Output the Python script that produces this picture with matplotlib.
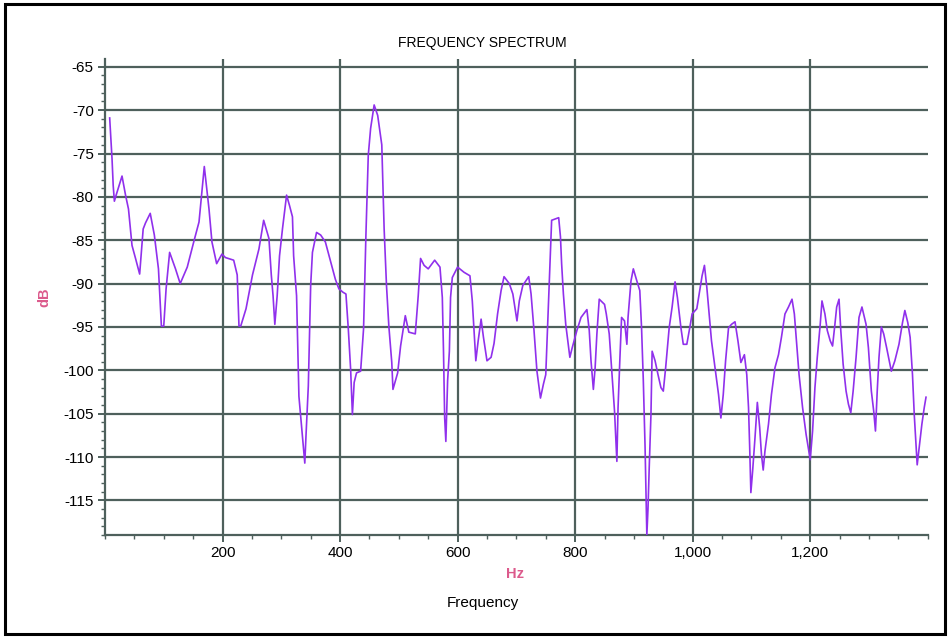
import matplotlib
matplotlib.use("Agg")
import matplotlib.pyplot as plt
from matplotlib.ticker import MultipleLocator, FuncFormatter
from matplotlib.patches import Rectangle

plt.rcParams['font.family'] = ['Liberation Sans', 'DejaVu Sans']

# spectrum samples (Hz, dB)
freq_hz = [
    8, 12, 14, 16, 19, 29, 35, 40, 46, 52, 59, 65, 69, 77, 84, 91, 96, 100,
    104, 110, 120, 128, 140, 151, 160, 165, 169, 173, 177, 182, 190, 199, 205,
    219, 225, 228, 231, 240, 251, 262, 270, 279,
    283, 286, 289, 293, 297, 302, 309, 314, 319, 321, 326, 330, 335, 340, 342,
    346, 350, 353, 360, 367, 375, 384, 392, 398, 405, 410, 414, 418, 421, 424,
    428, 435, 440, 444, 448, 452, 458, 464, 471, 475, 479, 483, 488, 490, 498,
    503, 511, 517, 528, 533, 537, 543, 550,
    561, 570, 574, 576, 578, 580, 583, 586, 588, 591, 600, 611, 621, 625, 628,
    631, 635, 640, 644, 650, 657, 662, 668, 674, 679, 688, 694, 701, 705, 711,
    721, 725, 730, 735, 741, 746, 750, 753, 756, 760, 772, 775, 777, 780, 784,
    791, 795, 803, 810, 820, 824, 827, 831, 834, 837, 841,
    850, 853, 858, 862, 867, 871, 873, 876, 879, 884, 888, 890, 895, 899, 905,
    910, 913, 916, 919, 921, 922, 924, 926, 929, 931, 936, 941, 946, 950, 954,
    960, 965, 970, 974, 980, 984, 990, 995, 999, 1007, 1012, 1016, 1020, 1024,
    1028, 1032, 1038, 1044, 1048, 1052, 1056, 1061, 1066, 1072, 1077, 1082,
    1088, 1092, 1095, 1097, 1099, 1102, 1106, 1110, 1114, 1117, 1120,
    1123, 1129, 1134, 1140, 1146, 1151, 1157, 1163, 1169, 1173, 1177, 1181,
    1187, 1193, 1200, 1204, 1208, 1212, 1217, 1220, 1225, 1229, 1234, 1238,
    1242, 1245, 1249, 1252, 1256, 1261, 1265, 1269, 1273, 1278, 1283, 1288,
    1295, 1299, 1304, 1308, 1311, 1314, 1317, 1321, 1325, 1330, 1338, 1344,
    1351, 1357, 1361, 1366, 1370, 1374, 1377, 1380, 1382, 1386, 1390, 1394,
    1397,
]
level_db = [
    -70.9, -75.6, -78.7, -80.5, -79.8, -77.6, -79.8, -81.4, -85.6, -87.1,
    -88.9, -83.7, -83.0, -81.9, -84.4, -88.3, -94.9, -94.9, -90.6, -86.4,
    -88.3, -90.0, -88.1, -85.2, -82.9, -79.4, -76.5, -79.0, -81.4, -85.2,
    -87.7, -86.6, -87.0, -87.3, -89.0, -94.9, -94.9, -92.9, -89.0, -86.0,
    -82.7, -84.8,
    -89.0, -91.4, -94.7, -91.4, -86.8, -83.7, -79.8, -81.0, -82.3, -86.8,
    -91.4, -103.0, -106.8, -110.7, -107.6, -101.8, -90.2, -86.4, -84.1, -84.4,
    -85.2, -87.5, -89.5, -90.6, -91.0, -91.2, -95.2, -99.9, -105.1, -101.4,
    -100.3, -100.1, -95.2, -84.4, -75.2, -72.1, -69.4, -70.6, -74.0, -83.7,
    -90.2, -94.9, -99.1, -102.2, -100.3, -97.2, -93.7, -95.6, -95.8, -91.4,
    -87.1, -87.9, -88.3,
    -87.3, -88.1, -91.6, -97.8, -105.5, -108.2, -101.2, -97.8, -91.6, -89.3,
    -88.1, -88.7, -89.1, -92.0, -95.4, -98.9, -96.6, -94.1, -96.2, -98.9,
    -98.5, -96.9, -93.5, -90.8, -89.2, -90.0, -91.2, -94.3, -92.0, -90.2,
    -89.2, -91.2, -95.4, -100.1, -103.2, -101.6, -100.5, -95.1, -89.7, -82.7,
    -82.4, -84.6, -87.7, -91.2, -94.7, -98.5, -97.4, -95.4, -93.9, -93.0,
    -95.4, -98.9, -102.2, -99.7, -95.8, -91.8,
    -92.4, -93.5, -95.8, -99.7, -104.7, -110.5, -104.3, -98.9, -93.9, -94.3,
    -97.0, -93.9, -89.7, -88.3, -89.7, -90.8, -95.1, -101.2, -108.9, -115.5,
    -119.0, -115.9, -111.3, -105.1, -97.8, -98.9, -100.5, -102.0, -102.4,
    -99.7, -95.1, -92.7, -89.8, -91.6, -95.1, -97.0, -97.0, -95.1, -93.5,
    -92.9, -90.8, -89.1, -87.9, -90.4, -93.5, -96.6, -99.7, -102.8, -105.5,
    -102.8, -98.9, -95.1, -94.7, -94.4, -96.6, -99.1, -98.2, -100.5, -104.3,
    -108.9, -114.1, -111.6, -107.8, -103.7, -106.6, -109.7, -111.5,
    -109.3, -106.2, -102.8, -99.7, -98.2, -96.2, -93.5, -92.7, -91.8, -93.5,
    -97.0, -100.5, -104.3, -107.4, -110.3, -107.0, -102.0, -98.5, -94.7,
    -92.0, -93.5, -95.4, -96.6, -97.2, -94.7, -92.7, -91.8, -95.4, -99.3,
    -102.4, -103.9, -104.9, -102.4, -98.5, -93.9, -92.7, -94.7, -97.4,
    -102.4, -104.7, -107.0, -102.4, -98.5, -95.0, -95.8, -97.4, -100.1,
    -98.9, -97.0, -94.5, -93.1, -94.5, -96.2, -100.5, -105.1, -108.6,
    -110.9, -108.6, -106.2, -104.3, -103.1,
]

x_ticks = [200, 400, 600, 800, 1000, 1200]
y_ticks = [-65, -70, -75, -80, -85, -90, -95, -100, -105, -110, -115]

grid_col = '#4e605c'
unit_col = '#dc5a8c'

fig = plt.figure(figsize=(9.5, 6.37), dpi=100)
ax = fig.add_axes([0.1105, 0.160, 0.8661, 0.7474])

ax.plot(freq_hz, level_db, color='#9030ec', lw=1.2, zorder=3)

ax.set_xlim(0, 1400)
ax.set_ylim(-119, -64.1)
ax.set_xticks(x_ticks)
ax.set_yticks(y_ticks)
ax.xaxis.set_minor_locator(MultipleLocator(50))
ax.yaxis.set_minor_locator(MultipleLocator(1))
ax.xaxis.set_major_formatter(FuncFormatter(lambda v, p: f'{v:,.0f}'))
ax.yaxis.set_major_formatter(FuncFormatter(lambda v, p: f'{v:.0f}'))

ax.grid(True, which='major', color=grid_col, lw=1.6, zorder=1)
ax.set_axisbelow(True)
for side in ('top', 'right'):
    ax.spines[side].set_visible(False)
for side in ('left', 'bottom'):
    ax.spines[side].set_color(grid_col)
    ax.spines[side].set_linewidth(1.6)

ax.tick_params(which='major', length=5, width=1.4, color=grid_col,
               labelsize=11, pad=3)
ax.tick_params(which='minor', length=3, width=1.0, color=grid_col)

fig.text(0.508, 0.932, 'FREQUENCY SPECTRUM', ha='center', va='center',
         fontsize=10, family=['Liberation Sans Narrow', 'Liberation Sans'])
fig.text(0.047, 0.534, 'dB', ha='center', va='center', rotation=90,
         fontsize=10.5, fontweight='bold', color=unit_col)
fig.text(0.542, 0.099, 'Hz', ha='center', va='center',
         fontsize=10.5, fontweight='bold', color=unit_col)
fig.text(0.508, 0.053, 'Frequency', ha='center', va='center', fontsize=11)

# black frame round the whole figure
fig.patches.append(Rectangle((0.005, 0.005), 0.99, 0.989,
                             transform=fig.transFigure, fill=False,
                             edgecolor='black', lw=2.2))

fig.savefig('out.png', dpi=100)
